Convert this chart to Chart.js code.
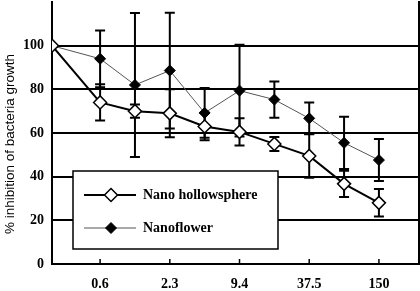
<!DOCTYPE html>
<html><head><meta charset="utf-8">
<script src="https://cdn.jsdelivr.net/npm/chart.js@4/dist/chart.umd.min.js"></script>
<style>html,body{margin:0;padding:0;background:#fff}#wrap{width:420px;height:291px}</style>
</head><body><div id="wrap"><canvas id="c" width="420" height="291"></canvas></div>
<script>
// Concentrations (categories) and their positions along the x axis
const concLabels = ["0", "0.6", "1.2", "2.3", "4.7", "9.4", "18.8", "37.5", "75", "150"];
const xPositions = [-1.38, 0, 1, 2, 3, 4, 5, 6, 7, 8];
const xTickLabels = ["0.6", "2.3", "9.4", "37.5", "150"];
const yTickValues = [0, 20, 40, 60, 80, 100];

// Series values (% inhibition) and error bars (±)
const hollowValues = [100, 74, 70, 69, 63, 60.5, 55, 49.5, 36.7, 28];
const hollowErrors = [0, 8.3, 3, 11, 6.3, 6.2, 3.2, 10, 6, 6.3];
const flowerValues = [100, 94, 82, 88.6, 69.2, 79.4, 75.3, 66.7, 55.5, 47.6];
const flowerErrors = [0, 13, 33, 26.5, 11.4, 21, 8.3, 7.3, 12, 9.6];

const seriesNames = ["Nano hollowsphere", "Nanoflower"];

const toPoints = (vals) => vals.map((v, i) => ({ x: xPositions[i], y: v }));
const serif = '"Liberation Serif", "Times New Roman", serif';

const errorBarPlugin = {
  id: 'errorBars',
  beforeDatasetsDraw(chart) {
    const { ctx, scales: { x, y } } = chart;
    ctx.save();
    ctx.strokeStyle = '#000';
    ctx.lineWidth = 2;
    chart.data.datasets.forEach((ds) => {
      ds.errors.forEach((e, i) => {
        if (!e) return;
        const px = x.getPixelForValue(xPositions[i]);
        const top = y.getPixelForValue(ds.values[i] + e);
        const bot = y.getPixelForValue(ds.values[i] - e);
        ctx.beginPath();
        ctx.moveTo(px, top); ctx.lineTo(px, bot);
        ctx.moveTo(px - 5, top); ctx.lineTo(px + 5, top);
        ctx.moveTo(px - 5, bot); ctx.lineTo(px + 5, bot);
        ctx.stroke();
      });
    });
    ctx.restore();
  }
};

const framePlugin = {
  id: 'frame',
  afterDraw(chart) {
    const { ctx, chartArea: a, scales: { x } } = chart;
    ctx.save();
    ctx.strokeStyle = '#000';
    ctx.lineWidth = 2;
    // right border
    ctx.beginPath();
    ctx.moveTo(a.right, a.top - 1); ctx.lineTo(a.right, a.bottom);
    ctx.stroke();
    // inner tick marks on x axis
    ctx.lineWidth = 1.5;
    x.ticks.forEach(t => {
      const px = x.getPixelForValue(t.value);
      ctx.beginPath();
      ctx.moveTo(px, a.bottom); ctx.lineTo(px, a.bottom - 5);
      ctx.stroke();
    });
    // y axis title
    ctx.fillStyle = '#000';
    ctx.font = '13.5px "Liberation Sans", Arial, sans-serif';
    ctx.textAlign = 'center';
    ctx.textBaseline = 'middle';
    ctx.translate(10, 144);
    ctx.rotate(-Math.PI / 2);
    ctx.fillText('% inhibition of bacteria growth', 0, 0);
    ctx.restore();

    // legend box
    ctx.save();
    const bx = 73, by = 171, bw = 205, bh = 78;
    ctx.fillStyle = '#fff';
    ctx.fillRect(bx, by, bw, bh);
    ctx.strokeStyle = '#000';
    ctx.lineWidth = 1.5;
    ctx.strokeRect(bx, by, bw, bh);
    const rows = [195, 228];
    chart.data.datasets.forEach((ds, i) => {
      const yy = rows[i];
      ctx.strokeStyle = ds.borderColor;
      ctx.lineWidth = ds.borderWidth;
      ctx.beginPath();
      ctx.moveTo(84, yy); ctx.lineTo(136, yy);
      ctx.stroke();
      ctx.fillStyle = ds.pointBackgroundColor;
      ctx.strokeStyle = '#000';
      ctx.lineWidth = ds.pointBorderWidth;
      const r = ds.pointRadius;
      ctx.beginPath();
      ctx.moveTo(111, yy - r); ctx.lineTo(111 + r, yy); ctx.lineTo(111, yy + r); ctx.lineTo(111 - r, yy); ctx.closePath();
      ctx.fill(); ctx.stroke();
      ctx.fillStyle = '#000';
      ctx.font = 'bold 14px ' + serif;
      ctx.textAlign = 'left';
      ctx.textBaseline = 'middle';
      ctx.fillText(ds.label, 143, yy);
    });
    ctx.restore();
  }
};

new Chart(document.getElementById('c'), {
  type: 'line',
  data: {
    datasets: [
      {
        label: seriesNames[0],
        data: toPoints(hollowValues),
        values: hollowValues,
        errors: hollowErrors,
        borderColor: '#000',
        borderWidth: 2,
        pointStyle: 'rectRot',
        pointRadius: 6.5,
        pointBackgroundColor: '#fff',
        pointBorderColor: '#000',
        pointBorderWidth: 1.5,
        order: 1
      },
      {
        label: seriesNames[1],
        data: toPoints(flowerValues),
        values: flowerValues,
        errors: flowerErrors,
        borderColor: '#555',
        borderWidth: 1,
        pointStyle: 'rectRot',
        pointRadius: 5.5,
        pointBackgroundColor: '#000',
        pointBorderColor: '#000',
        pointBorderWidth: 1,
        order: 2
      }
    ]
  },
  options: {
    responsive: false,
    animation: false,
    devicePixelRatio: 1,
    layout: { autoPadding: false, padding: { top: 2, right: 1, left: 0, bottom: 0 } },
    plugins: { legend: { display: false }, tooltip: { enabled: false } },
    scales: {
      x: {
        type: 'linear',
        min: -1.38,
        max: 9.15,
        afterBuildTicks: (scale) => {
          scale.ticks = xTickLabels.map(l => ({ value: xPositions[concLabels.indexOf(l)] }));
        },
        afterFit: (scale) => { scale.height = 27; scale.paddingLeft = 0; scale.paddingRight = 0; },
        grid: { display: false, drawTicks: false },
        border: { display: true, color: '#000', width: 2 },
        ticks: {
          padding: 12,
          color: '#000',
          font: { family: serif, size: 14, weight: 'bold' },
          callback: (v) => concLabels[xPositions.indexOf(v)]
        }
      },
      y: {
        min: 0,
        max: 120,
        afterBuildTicks: (scale) => {
          scale.ticks = yTickValues.concat([120]).map(v => ({ value: v }));
        },
        afterFit: (scale) => { scale.width = 52; scale.paddingTop = 0; scale.paddingBottom = 0; },
        grid: { color: '#000', lineWidth: 2, drawTicks: false },
        border: { display: true, color: '#000', width: 2 },
        ticks: {
          padding: 8,
          color: '#000',
          font: { family: serif, size: 14, weight: 'bold' },
          callback: (v) => (yTickValues.includes(v) ? String(v) : null)
        }
      }
    }
  },
  plugins: [errorBarPlugin, framePlugin]
});
</script>
</body></html>
